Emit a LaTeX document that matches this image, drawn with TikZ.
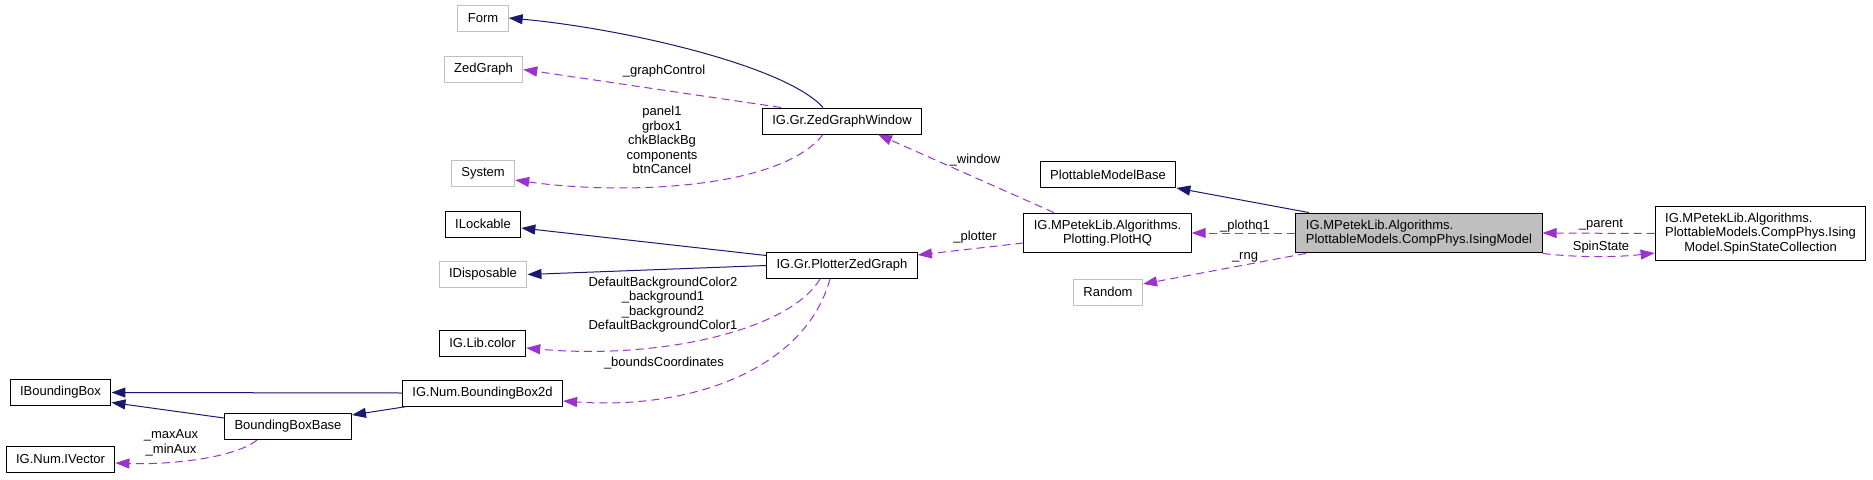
\documentclass[tikz,border=0pt]{standalone}
\usepackage{fontspec}
\setmainfont{Liberation Sans}
\usetikzlibrary{arrows.meta}

\definecolor{inheritblue}{HTML}{191970}
\definecolor{usepurple}{HTML}{9A32CD}
\definecolor{undocgray}{HTML}{BFBFBF}

% first line of a broken class name sits on the left of the next one
\newcommand{\leftfirst}[2]{\rlap{#1}\hphantom{#2}}

\begin{document}
\begin{tikzpicture}[x=1pt, y=-1pt,
        every node/.style={font=\fontsize{13}{14.5}\selectfont},
        cls/.style={draw=black, line width=1pt, fill=white, inner xsep=10pt, inner ysep=6.6pt, minimum height=26pt, align=center},
        extcls/.style={cls, draw=undocgray},
        inherit/.style={color=inheritblue, line width=1pt, -{Triangle[length=14pt, width=10pt]}},
        uses/.style={color=usepurple, line width=1pt, dash pattern=on 8pt off 5pt, -{Triangle[length=14pt, width=10pt]}},
        edgelabel/.style={align=center, inner sep=0pt}]
        \path[use as bounding box, fill=white] (0,0) rectangle (1873,479);

        % Left column
        \node[extcls] (form) at (483,18) {Form};
        \node[extcls] (zedgraph) at (483.5,69.5) {ZedGraph};
        \node[extcls] (system) at (483,173.5) {System};
        \node[cls] (ilockable) at (483,224) {ILockable};
        \node[extcls] (idisposable) at (483,274.5) {IDisposable};
        \node[cls] (libcolor) at (482.5,343) {IG.Lib.color};
        \node[cls] (bbox2d) at (482.5,393) {IG.Num.BoundingBox2d};

        % Far left
        \node[cls] (ibbox) at (60.5,392.5) {IBoundingBox};
        \node[cls] (bbbase) at (288,426.5) {BoundingBoxBase};
        \node[cls] (ivector) at (60.5,459) {IG.Num.IVector};

        % Middle
        \node[cls] (zgw) at (842,121) {IG.Gr.ZedGraphWindow};
        \node[cls] (pzg) at (842,265.5) {IG.Gr.PlotterZedGraph};
        \node[cls] (plothq) at (1107.5,233) {IG.MPetekLib.Algorithms.\\Plotting.PlotHQ};
        \node[cls] (pmb) at (1108,174.5) {PlottableModelBase};
        \node[extcls] (random) at (1108,292) {Random};

        % Right
        \node[cls, fill=undocgray, align=left] (ising) at (1419,233) {IG.MPetekLib.Algorithms.\\PlottableModels.CompPhys.IsingModel};
        \node[cls] (ssc) at (1760.5,233.5) {\leftfirst{IG.MPetekLib.Algorithms.}{PlottableModels.CompPhys.Ising}\\PlottableModels.CompPhys.Ising\\Model.SpinStateCollection};

        % Inheritance
        \draw[inherit] ([xshift=-19pt]zgw.north) .. controls (785,65) and (620,28) .. (form.east);
        \draw[inherit] ([yshift=10pt]pzg.west) -- ([yshift=-4pt]ilockable.east);
        \draw[inherit] (pzg.west) -- (idisposable.east);
        \draw[inherit] (bbox2d.west) -- (ibbox.east);
        \draw[inherit] ([xshift=5pt]bbox2d.south west) -- ([yshift=-2pt]bbbase.north east);
        \draw[inherit] ([yshift=-5pt]bbbase.north west) -- ([yshift=-10pt]ibbox.east);
        \draw[inherit] ([xshift=-110pt]ising.north) -- (pmb.south east);

        % Usage
        \draw[uses] ([xshift=-61pt]zgw.north) -- (zedgraph.east);
        \draw[uses] ([xshift=-19pt]zgw.south) .. controls (780,190) and (620,195) .. ([yshift=-6.5pt]system.east);
        \draw[uses] ([xshift=-22pt]pzg.south) .. controls (790,330) and (660,360) .. ([yshift=-5pt]libcolor.east);
        \draw[uses] ([xshift=-12pt]pzg.south) .. controls (805,370) and (690,410) .. ([yshift=-8pt]bbox2d.east);
        \draw[uses] ([xshift=-31pt]bbbase.south) .. controls (235,458) and (170,465) .. ([yshift=-4pt]ivector.east);
        \draw[uses] ([xshift=-53.5pt]plothq.north) -- ([xshift=36pt]zgw.south);
        \draw[uses] ([yshift=-10pt]plothq.west) -- ([yshift=10.5pt]pzg.east);
        \draw[uses] (ising.west) -- (plothq.east);
        \draw[uses] ([xshift=-113pt]ising.south) -- ([yshift=8pt]random.east);
        \draw[uses] (ssc.west) -- (ising.east);
        \draw[uses] (ising.south east) .. controls (1580,258) and (1620,257) .. ([yshift=-19.5pt]ssc.west);

        % Edge labels
        \node[edgelabel] (lgraph) at (664,71) {\_graphControl};
        \node[edgelabel] (lsystem) at (662,140) {panel1\\grbox1\\chkBlackBg\\components\\btnCancel};
        \node[edgelabel] (lcolor) at (663,304.5) {DefaultBackgroundColor2\\\_background1\\\_background2\\DefaultBackgroundColor1};
        \node[edgelabel] (lbounds) at (664,363) {\_boundsCoordinates};
        \node[edgelabel] (laux) at (171,443) {\_maxAux\\\_minAux};
        \node[edgelabel] (lwindow) at (975,160) {\_window};
        \node[edgelabel] (lplotter) at (975,237) {\_plotter};
        \node[edgelabel] (lplothq) at (1245,226) {\_plothq1};
        \node[edgelabel] (lrng) at (1245,257) {\_rng};
        \node[edgelabel] (lparent) at (1601,225) {\_parent};
        \node[edgelabel] (lspin) at (1601,247) {SpinState};

    \end{tikzpicture}
\end{document}
